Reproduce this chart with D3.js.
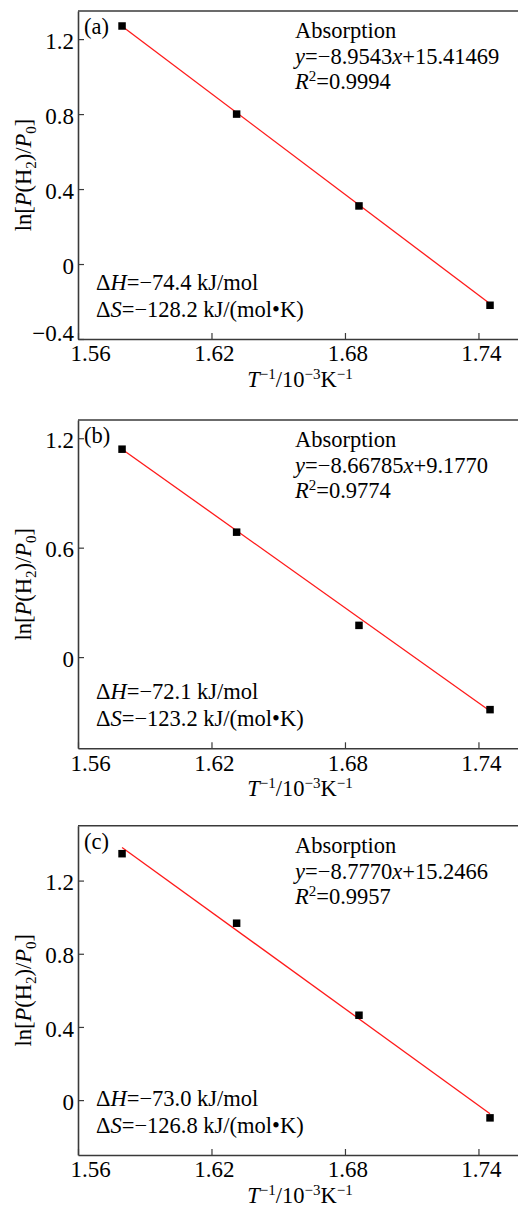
<!DOCTYPE html>
<html>
<head>
<meta charset="utf-8">
<script src="https://cdn.jsdelivr.net/npm/d3@7"></script>
<style>
  body { margin: 0; background: #fff; }
  text { font-family: "Liberation Serif", "Times New Roman", serif; }
</style>
</head>
<body>
<div id="chart"></div>
<script>
// Data
const invT = [1.5798, 1.6313, 1.6863, 1.7452];          // T^-1 / 10^-3 K^-1
const lnA = [1.27, 0.80, 0.31, -0.22];
const lnB = [1.14, 0.685, 0.174, -0.288];
const lnC = [1.347, 0.967, 0.464, -0.097];

// fitted lines (end points)
const fitX = [1.5798, 1.7452];
const fitA = [1.269, -0.212];
const fitB = [1.14, -0.295];
const fitC = [1.381, -0.074];

const xTicks = [1.56, 1.62, 1.68, 1.74];
const xDomain = [1.56, 1.758];
const yTicksA = [-0.4, 0, 0.4, 0.8, 1.2];
const yTicksB = [0, 0.6, 1.2];
const yTicksC = [0, 0.4, 0.8, 1.2];
const yDomainA = [-0.4, 1.35];
const yDomainB = [-0.5, 1.3];
const yDomainC = [-0.3, 1.5];

const panelLabels = ["(a)", "(b)", "(c)"];
const slopes = ["\u22128.9543", "\u22128.66785", "\u22128.7770"];
const intercepts = ["15.41469", "9.1770", "15.2466"];
const r2 = ["0.9994", "0.9774", "0.9957"];
const dH = ["\u221274.4", "\u221272.1", "\u221273.0"];
const dS = ["\u2212128.2", "\u2212123.2", "\u2212126.8"];

const panels = [
    { y: lnA, fit: fitA, ticks: yTicksA, domain: yDomainA, top: 11, bottom: 339 },
    { y: lnB, fit: fitB, ticks: yTicksB, domain: yDomainB, top: 420, bottom: 748.3 },
    { y: lnC, fit: fitC, ticks: yTicksC, domain: yDomainC, top: 825.7, bottom: 1155 }
];

const W = 518, H = 1207;
const left = 78, right = 518.5;
const fs = 22.5;      // annotation text
const tfs = 23;       // tick labels
const sfs = 15;       // sub / superscripts
const axisColor = "#3a3a3a";
const ink = "#000";

const svg = d3.select("#chart")
    .append("svg")
    .attr("width", W)
    .attr("height", H);

const x = d3.scaleLinear().domain(xDomain).range([left, right]);
const fmt = d => d === 0 ? "0" : d3.format(".1f")(d);

panels.forEach((p, i) => {
    const y = d3.scaleLinear().domain(p.domain).range([p.bottom, p.top]);
    const g = svg.append("g");

    // top frame line
    g.append("line")
        .attr("x1", left).attr("x2", W)
        .attr("y1", p.top).attr("y2", p.top)
        .attr("stroke", axisColor)
        .attr("stroke-width", 1.6);

    // x axis
    const xa = g.append("g")
        .attr("transform", `translate(0,${p.bottom})`)
        .call(d3.axisBottom(x).tickValues(xTicks).tickSizeInner(-6).tickSizeOuter(0)
            .tickPadding(6).tickFormat(d3.format(".2f")));
    xa.select(".domain").attr("stroke", axisColor).attr("stroke-width", 1.6);
    xa.selectAll(".tick line").attr("stroke", axisColor).attr("stroke-width", 1.2);
    xa.selectAll(".tick text")
        .attr("font-size", tfs)
        .attr("font-family", "Liberation Serif")
        .attr("fill", ink)
        .attr("dx", (d, k) => k === 0 ? 12 : 2.5);

    // y axis
    const ya = g.append("g")
        .attr("transform", `translate(${left},0)`)
        .call(d3.axisLeft(y).tickValues(p.ticks).tickSizeInner(-6).tickSizeOuter(0)
            .tickPadding(4).tickFormat(fmt));
    ya.select(".domain").attr("stroke", axisColor).attr("stroke-width", 1.6);
    ya.selectAll(".tick line").attr("stroke", axisColor).attr("stroke-width", 1.2);
    ya.selectAll(".tick text")
        .attr("font-size", tfs)
        .attr("font-family", "Liberation Serif")
        .attr("fill", ink)
        .attr("dy", d => d === p.domain[0] ? "0.05em" : "0.4em");

    // axis titles
    const yl = g.append("text")
        .attr("transform", `translate(31,${(p.top + p.bottom) / 2}) rotate(-90)`)
        .attr("text-anchor", "middle")
        .attr("font-size", fs)
        .attr("fill", ink);
    yl.append("tspan").text("ln[");
    yl.append("tspan").attr("font-style", "italic").text("P");
    yl.append("tspan").text("(H");
    yl.append("tspan").attr("font-size", sfs).attr("dy", 5).text("2");
    yl.append("tspan").attr("dy", -5).text(")/");
    yl.append("tspan").attr("font-style", "italic").text("P");
    yl.append("tspan").attr("font-size", sfs).attr("dy", 5).text("0");
    yl.append("tspan").attr("dy", -5).text("]");

    const xl = g.append("text")
        .attr("x", (left + W) / 2 + 2)
        .attr("y", p.bottom + 47.5)
        .attr("text-anchor", "middle")
        .attr("font-size", fs)
        .attr("fill", ink);
    xl.append("tspan").attr("font-style", "italic").text("T");
    xl.append("tspan").attr("font-size", sfs).attr("dy", -8).text("\u22121");
    xl.append("tspan").attr("dy", 8).text("/10");
    xl.append("tspan").attr("font-size", sfs).attr("dy", -8).text("\u22123");
    xl.append("tspan").attr("dy", 8).text("K");
    xl.append("tspan").attr("font-size", sfs).attr("dy", -8).text("\u22121");

    // fitted line
    g.append("line")
        .attr("x1", x(fitX[0])).attr("y1", y(p.fit[0]))
        .attr("x2", x(fitX[1])).attr("y2", y(p.fit[1]))
        .attr("stroke", "#ff1a1a")
        .attr("stroke-width", 1.3);

    // data points
    g.selectAll("rect.pt")
        .data(invT.map((v, k) => ({ x: v, y: p.y[k] })))
        .enter()
        .append("rect")
        .attr("class", "pt")
        .attr("x", d => x(d.x) - 3.75)
        .attr("y", d => y(d.y) - 3.75)
        .attr("width", 7.5)
        .attr("height", 7.5)
        .attr("fill", "#000");

    // panel label
    g.append("text")
        .attr("x", 84)
        .attr("y", p.top + 23)
        .attr("font-size", fs)
        .attr("fill", ink)
        .text(panelLabels[i]);

    // fit annotation
    const ax = 295;
    g.append("text")
        .attr("x", ax).attr("y", p.top + 27)
        .attr("font-size", fs).attr("fill", ink)
        .text("Absorption");
    const eq = g.append("text")
        .attr("x", ax).attr("y", p.top + 53)
        .attr("font-size", fs).attr("fill", ink);
    eq.append("tspan").attr("font-style", "italic").text("y");
    eq.append("tspan").text("=" + slopes[i]);
    eq.append("tspan").attr("font-style", "italic").text("x");
    eq.append("tspan").text("+" + intercepts[i]);
    const rr = g.append("text")
        .attr("x", ax).attr("y", p.top + 78)
        .attr("font-size", fs).attr("fill", ink);
    rr.append("tspan").attr("font-style", "italic").text("R");
    rr.append("tspan").attr("font-size", sfs).attr("dy", -8).text("2");
    rr.append("tspan").attr("dy", 8).text("=" + r2[i]);

    // thermodynamic values
    const h = g.append("text")
        .attr("x", 96).attr("y", p.bottom - 49)
        .attr("font-size", fs).attr("fill", ink);
    h.append("tspan").text("\u0394");
    h.append("tspan").attr("font-style", "italic").text("H");
    h.append("tspan").text("=" + dH[i] + " kJ/mol");
    const s = g.append("text")
        .attr("x", 96).attr("y", p.bottom - 22)
        .attr("font-size", fs).attr("fill", ink);
    s.append("tspan").text("\u0394");
    s.append("tspan").attr("font-style", "italic").text("S");
    s.append("tspan").text("=" + dS[i] + " kJ/(mol\u2022K)");
});
</script>
</body>
</html>
